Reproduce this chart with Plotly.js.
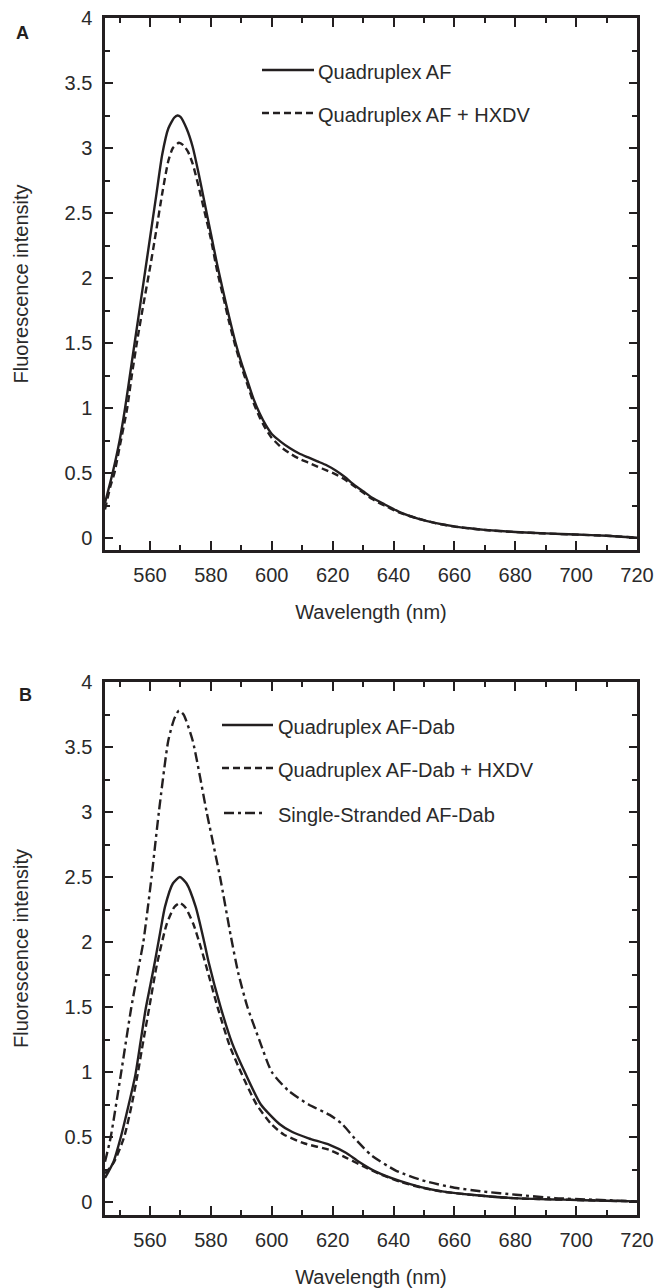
<!DOCTYPE html>
<html>
<head>
<meta charset="utf-8">
<script src="https://cdn.plot.ly/plotly-3.0.1.min.js"></script>
<style>html,body{margin:0;padding:0;background:#fff;}#chart{width:654px;height:1288px;}</style>
</head>
<body>
<div id="chart"></div>
<script>
// ---------- Panel A data ----------
const aQuadWl = [545.2, 547.7, 550, 551.8, 554, 556, 558, 560, 562, 564, 566, 568, 569, 570, 572, 574, 576, 578, 580, 582, 584, 586, 588, 590, 592, 594, 596, 598, 600, 603, 606, 609, 612, 615, 618, 621, 624, 627, 630, 633, 637, 642, 648, 654, 660, 665, 670, 680, 690, 700, 710, 720];
const aQuadFl = [0.27, 0.5, 0.75, 1.0, 1.35, 1.67, 1.99, 2.31, 2.63, 2.95, 3.15, 3.235, 3.25, 3.24, 3.15, 3.01, 2.8, 2.57, 2.34, 2.11, 1.9, 1.7, 1.51, 1.35, 1.21, 1.07, 0.96, 0.87, 0.8, 0.74, 0.69, 0.65, 0.62, 0.59, 0.56, 0.52, 0.47, 0.41, 0.36, 0.31, 0.26, 0.2, 0.15, 0.115, 0.09, 0.075, 0.063, 0.047, 0.036, 0.027, 0.018, 0.003];

const aHxdvWl = [545.2, 547, 548.3, 550, 552.5, 554, 556, 558, 560, 562, 564, 566, 567.5, 569.5, 571, 572.5, 574, 576, 578, 580, 582, 584, 586, 588, 590, 592, 594, 596, 598, 600, 603, 606, 609, 612, 615, 618, 621, 624, 627, 630, 633, 637, 642, 648, 654, 660, 665, 670, 680, 690, 700, 710, 720];
const aHxdvFl = [0.22, 0.4, 0.5, 0.7, 1.0, 1.25, 1.55, 1.82, 2.08, 2.36, 2.65, 2.9, 3.0, 3.04, 3.02, 2.97, 2.88, 2.7, 2.5, 2.3, 2.06, 1.86, 1.66, 1.48, 1.32, 1.18, 1.04, 0.93, 0.84, 0.77, 0.7, 0.65, 0.61, 0.58, 0.55, 0.52, 0.49, 0.45, 0.4, 0.35, 0.3, 0.25, 0.195, 0.15, 0.113, 0.088, 0.074, 0.062, 0.046, 0.035, 0.026, 0.018, 0.003];

// ---------- Panel B data ----------
const bQuadWl = [545.2, 548, 550.4, 553, 555.2, 557, 558.6, 560.2, 561.6, 563.3, 564.9, 567.5, 569.8, 572, 575, 577.8, 579.2, 583.3, 587, 591.5, 596.4, 602.5, 606.6, 612.1, 619, 624.5, 628.6, 634, 642.3, 649, 656, 665.6, 679.3, 695.8, 710, 720];
const bQuadFl = [0.185, 0.31, 0.5, 0.75, 0.98, 1.25, 1.49, 1.68, 1.85, 2.07, 2.27, 2.45, 2.5, 2.45, 2.27, 2.0, 1.85, 1.49, 1.22, 0.98, 0.75, 0.6, 0.54, 0.49, 0.44, 0.377, 0.31, 0.236, 0.16, 0.115, 0.082, 0.056, 0.03, 0.018, 0.01, 0.005];

const bHxdvWl = [545.2, 548, 551.5, 554, 555.9, 557.8, 559.7, 562.2, 565.5, 568, 569.8, 571.5, 574.2, 576.8, 578.5, 582.3, 586.2, 590.2, 595, 599.8, 603.9, 610.8, 619, 624.5, 631.3, 636, 642.3, 649, 656, 665.6, 679.3, 695.8, 710, 720];
const bHxdvFl = [0.22, 0.3, 0.5, 0.75, 0.98, 1.24, 1.49, 1.82, 2.14, 2.27, 2.3, 2.27, 2.14, 1.95, 1.81, 1.49, 1.2, 0.98, 0.75, 0.6, 0.52, 0.45, 0.4, 0.34, 0.26, 0.21, 0.155, 0.112, 0.08, 0.055, 0.03, 0.018, 0.01, 0.005];

const bSingleWl = [545.2, 547, 550.4, 553.8, 556.6, 557.8, 560.5, 562.9, 566, 568, 569.5, 571, 574, 578.6, 583, 586.5, 589, 592, 596, 600, 605.3, 612.1, 619, 623.1, 627.2, 632.7, 640.9, 650.5, 660, 669.7, 680.2, 693, 705.4, 720];
const bSingleFl = [0.31, 0.49, 0.98, 1.49, 1.85, 2.0, 2.5, 3.0, 3.55, 3.72, 3.78, 3.75, 3.55, 3.0, 2.5, 2.05, 1.76, 1.5, 1.24, 1.0, 0.86, 0.75, 0.67, 0.6, 0.49, 0.36, 0.24, 0.16, 0.11, 0.08, 0.056, 0.03, 0.018, 0.005];

const legendA = ['Quadruplex AF', 'Quadruplex AF + HXDV'];
const legendB = ['Quadruplex AF-Dab', 'Quadruplex AF-Dab + HXDV', 'Single-Stranded AF-Dab'];

const ink = '#231f20';
const textCol = '#2a2a2a';
const FONT = 'Liberation Sans, Arial, Helvetica, sans-serif';
const DASH = '7px,4px';
const DASHDOT = '10px,4px,3px,4px';

function tr(x, y, name, dash, xa, ya) {
  return {x: x, y: y, name: name, type: 'scatter', mode: 'lines', xaxis: xa, yaxis: ya,
    line: {color: ink, width: 2.4, dash: dash, shape: 'spline', smoothing: 0.6}, showlegend: false, hoverinfo: 'skip'};
}

const data = [
  tr(aQuadWl, aQuadFl, legendA[0], 'solid', 'x', 'y'),
  tr(aHxdvWl, aHxdvFl, legendA[1], DASH, 'x', 'y'),
  tr(bQuadWl, bQuadFl, legendB[0], 'solid', 'x2', 'y2'),
  tr(bHxdvWl, bHxdvFl, legendB[1], DASH, 'x2', 'y2'),
  tr(bSingleWl, bSingleFl, legendB[2], DASHDOT, 'x2', 'y2')
];

function xax(anchor) {
  return {
    anchor: anchor, range: [545.2, 720], tick0: 560, dtick: 20,
    ticks: 'inside', ticklen: 9, tickwidth: 2, tickcolor: ink,
    showline: true, linewidth: 2.6, linecolor: ink, mirror: 'ticks',
    showgrid: false, zeroline: false,
    minor: {ticks: 'inside', ticklen: 5, tickwidth: 2, tickcolor: ink, tick0: 550, dtick: 10, showgrid: false},
    tickfont: {family: FONT, size: 20, color: textCol},
    ticklabelstandoff: 5,
    title: {text: 'Wavelength (nm)', font: {family: FONT, size: 20, color: textCol}, standoff: 21}
  };
}
function yax(domain, anchor, lo) {
  return {
    domain: domain, anchor: anchor, range: [lo, 4], tick0: 0, dtick: 0.5,
    ticks: 'inside', ticklen: 8, tickwidth: 2, tickcolor: ink,
    showline: true, linewidth: 2.6, linecolor: ink, mirror: 'ticks',
    showgrid: false, zeroline: false,
    minor: {ticks: 'inside', ticklen: 5, tickwidth: 2, tickcolor: ink, dtick: 0.25, showgrid: false},
    tickfont: {family: FONT, size: 20, color: textCol},
    ticklabelstandoff: 6,
    title: {text: 'Fluorescence intensity', font: {family: FONT, size: 20, color: textCol}, standoff: 31}
  };
}

// paper-coordinate helpers (plot area: x 105..637, y 18..1215)
const W = 654, H = 1288, L = 105, R = 17, T = 18, B = 73;
const pw = W - L - R, ph = H - T - B;
const px = v => (v - L) / pw;
const py = v => (H - B - v) / ph;

const shapes = [];
const annotations = [];
function legendItem(x0, x1, yPix, dash, textX, label) {
  shapes.push({type: 'line', xref: 'paper', yref: 'paper', x0: px(x0), x1: px(x1), y0: py(yPix), y1: py(yPix),
    line: {color: ink, width: 2.4, dash: dash}});
  annotations.push({xref: 'paper', yref: 'paper', x: px(textX), y: py(yPix + 2), xanchor: 'left', yanchor: 'middle',
    text: label, showarrow: false, font: {family: FONT, size: 20, color: textCol}});
}
legendItem(262, 314, 70, 'solid', 316, legendA[0]);
legendItem(262, 314, 113, DASH, 316, legendA[1]);
legendItem(222, 273, 725, 'solid', 276, legendB[0]);
legendItem(222, 273, 768, DASH, 276, legendB[1]);
legendItem(224, 265, 813, DASHDOT, 276, legendB[2]);

annotations.push({xref: 'paper', yref: 'paper', x: px(22), y: py(33), xanchor: 'center', yanchor: 'middle',
  text: '<b>A</b>', showarrow: false, font: {family: FONT, size: 18, color: ink}});
annotations.push({xref: 'paper', yref: 'paper', x: px(25), y: py(695), xanchor: 'center', yanchor: 'middle',
  text: '<b>B</b>', showarrow: false, font: {family: FONT, size: 18, color: ink}});

const layout = {
  width: W, height: H,
  margin: {l: L, r: R, t: T, b: B},
  paper_bgcolor: '#ffffff', plot_bgcolor: '#ffffff',
  showlegend: false,
  xaxis: xax('y'),
  yaxis: yax([py(550), 1], 'x', -0.092),
  xaxis2: xax('y2'),
  yaxis2: yax([0, py(682)], 'x2', -0.1),
  shapes: shapes,
  annotations: annotations
};

Plotly.newPlot('chart', data, layout, {displayModeBar: false, staticPlot: true});
</script>
</body>
</html>
